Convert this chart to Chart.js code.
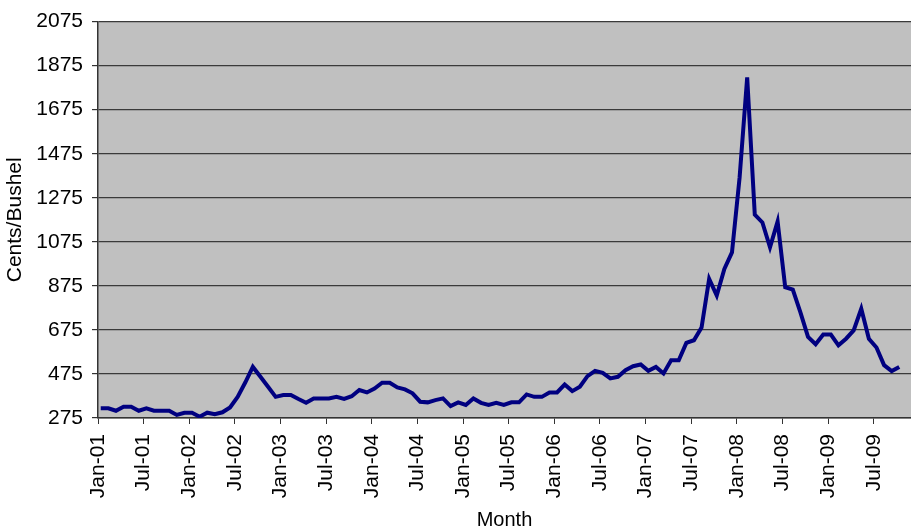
<!DOCTYPE html>
<html>
<head>
<meta charset="utf-8">
<script src="https://cdn.jsdelivr.net/npm/chart.js@4.4.1/dist/chart.umd.min.js"></script>
<style>
    html, body { margin: 0; padding: 0; background: #ffffff; }
    #wrap { width: 911px; height: 529px; }
</style>
</head>
<body>
<div id="wrap"><canvas id="priceChart" width="911" height="529"></canvas></div>
<script>
// Monthly price, cents/bushel, Jan-01 .. Oct-09
const prices2001 = [319, 319, 308, 326, 326, 308, 319, 308, 308, 308, 289, 299];
const prices2002 = [299, 281, 299, 292, 301, 323, 371, 436, 507, 462, 417, 371];
const prices2003 = [379, 379, 361, 344, 364, 364, 364, 371, 362, 374, 402, 391];
const prices2004 = [409, 435, 435, 414, 405, 387, 349, 346, 356, 364, 329, 346];
const prices2005 = [334, 364, 344, 334, 344, 334, 346, 346, 382, 371, 371, 391];
const prices2006 = [391, 427, 397, 417, 465, 489, 480, 455, 462, 492, 510, 518];
const prices2007 = [489, 507, 477, 537, 537, 616, 628, 686, 907, 831, 952, 1027];
const prices2008 = [1366, 1822, 1198, 1163, 1050, 1167, 869, 858, 755, 643, 610, 654];
const prices2009 = [654, 605, 635, 673, 771, 635, 595, 515, 488, 507];

const prices = [].concat(prices2001, prices2002, prices2003, prices2004, prices2005,
    prices2006, prices2007, prices2008, prices2009);

const tickLabels = ['Jan-01', 'Jul-01', 'Jan-02', 'Jul-02', 'Jan-03', 'Jul-03', 'Jan-04', 'Jul-04',
    'Jan-05', 'Jul-05', 'Jan-06', 'Jul-06', 'Jan-07', 'Jul-07', 'Jan-08', 'Jul-08', 'Jan-09', 'Jul-09'];
const yTicks = [275, 475, 675, 875, 1075, 1275, 1475, 1675, 1875, 2075];

const MONTHS_PER_TICK = 6;
const POINT_SHIFT = 0.36; // points sit a little after the month tick

const FONT = "Arial, 'Liberation Sans', sans-serif";

const plotBg = {
    id: 'plotBg',
    beforeDraw(chart) {
        const { ctx, chartArea: a } = chart;
        ctx.save();
        ctx.fillStyle = '#c0c0c0';
        ctx.fillRect(a.left, a.top, a.right - a.left, a.bottom - a.top);
        ctx.restore();
    }
};

const points = prices.map((v, i) => ({ x: i + POINT_SHIFT, y: v }));

new Chart(document.getElementById('priceChart'), {
    type: 'line',
    data: {
        datasets: [{
            label: 'Cents/Bushel',
            data: points,
            borderColor: '#000080',
            borderWidth: 4,
            pointRadius: 0,
            tension: 0,
            fill: false
        }]
    },
    options: {
        responsive: false,
        animation: false,
        layout: { padding: { top: 20, right: 0, left: 0, bottom: 0 } },
        plugins: {
            legend: { display: false },
            tooltip: { enabled: false }
        },
        scales: {
            x: {
                type: 'linear',
                min: 0,
                max: 106.9,
                afterBuildTicks: (scale) => {
                    scale.ticks = tickLabels.map((t, i) => ({ value: i * MONTHS_PER_TICK }));
                },
                afterFit: (scale) => { scale.height = 111; },
                grid: {
                    drawOnChartArea: false,
                    drawTicks: true,
                    tickLength: 6,
                    tickColor: '#333'
                },
                border: { color: '#333', width: 1.5 },
                ticks: {
                    autoSkip: false,
                    minRotation: 90,
                    maxRotation: 90,
                    padding: 10,
                    color: '#000',
                    font: { family: FONT, size: 21 },
                    callback: (v) => tickLabels[Math.round(v / MONTHS_PER_TICK)]
                },
                title: {
                    display: true,
                    text: 'Month',
                    color: '#000',
                    font: { family: FONT, size: 20 },
                    padding: { top: 0, bottom: -3 }
                }
            },
            y: {
                min: 275,
                max: 2075,
                afterBuildTicks: (scale) => {
                    scale.ticks = yTicks.map(v => ({ value: v }));
                },
                afterFit: (scale) => { scale.width = 98; },
                grid: {
                    color: '#3a3a3a',
                    lineWidth: 1.2,
                    drawTicks: true,
                    tickLength: 6,
                    tickColor: '#333'
                },
                border: { color: '#333', width: 1.5 },
                ticks: {
                    padding: 9,
                    color: '#000',
                    font: { family: FONT, size: 21 },
                    callback: (v) => String(v)
                },
                title: {
                    display: true,
                    text: 'Cents/Bushel',
                    color: '#000',
                    font: { family: FONT, size: 21 },
                    padding: { top: 3, bottom: 0 }
                }
            }
        }
    },
    plugins: [plotBg]
});
</script>
</body>
</html>
